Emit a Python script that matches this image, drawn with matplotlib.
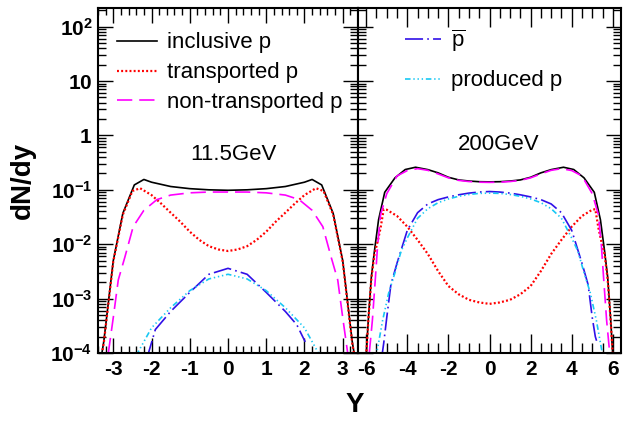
import numpy as np
import matplotlib
matplotlib.use('Agg')
import matplotlib.pyplot as plt
from matplotlib.ticker import MultipleLocator, FixedLocator, FixedFormatter, LogLocator, NullFormatter

plt.rcParams['font.family'] = ['Liberation Sans', 'DejaVu Sans']
plt.rcParams['mathtext.fontset'] = 'custom'
plt.rcParams['mathtext.rm'] = 'Liberation Sans'
plt.rcParams['mathtext.bf'] = 'Liberation Sans:bold'
plt.rcParams['lines.scale_dashes'] = False
plt.rcParams['axes.unicode_minus'] = False

# ---- 11.5 GeV panel ----
y_incl_11 = [-3.32, -3.25, -3.0, -2.75, -2.45, -2.2, -2.0, -1.5, -1.0, -0.5, 0.0,
             0.5, 1.0, 1.5, 2.0, 2.2, 2.45, 2.75, 3.0, 3.25, 3.32]
incl_11 = [8e-5, 1.6e-4, 5e-3, 0.037, 0.123, 0.155, 0.138, 0.115, 0.105, 0.100, 0.098,
           0.100, 0.105, 0.115, 0.138, 0.155, 0.123, 0.037, 5e-3, 1.6e-4, 8e-5]

y_tr_11 = [-3.32, -3.25, -3.0, -2.75, -2.5, -2.3, -2.0, -1.75, -1.5, -1.25, -1.0, -0.75, -0.5, -0.25, 0.0,
           0.25, 0.5, 0.75, 1.0, 1.25, 1.5, 1.75, 2.0, 2.3, 2.5, 2.75, 3.0, 3.25, 3.32]
tr_11 = [8e-5, 1.5e-4, 4.8e-3, 0.035, 0.095, 0.107, 0.08, 0.056, 0.038, 0.026, 0.017, 0.012, 0.0092, 0.008, 0.0075,
         0.008, 0.0092, 0.012, 0.017, 0.026, 0.038, 0.056, 0.08, 0.107, 0.095, 0.035, 4.8e-3, 1.5e-4, 8e-5]

y_ntr_11 = [-3.13, -3.0, -2.87, -2.7, -2.48, -2.2, -1.86, -1.5, -1.0, -0.5, 0.0,
            0.5, 1.0, 1.5, 1.86, 2.2, 2.48, 2.7, 2.87, 3.0, 3.13]
ntr_11 = [1e-4, 4.5e-4, 2.2e-3, 5.7e-3, 0.021, 0.042, 0.066, 0.08, 0.088, 0.091, 0.091,
          0.091, 0.088, 0.08, 0.066, 0.042, 0.021, 5.7e-3, 2.2e-3, 4.5e-4, 1e-4]

y_pbar_11 = [-2.12, -1.9, -1.5, -1.0, -0.5, 0.0, 0.5, 1.0, 1.5, 1.8, 2.02]
pbar_11 = [8e-5, 2.7e-4, 5.8e-4, 1.3e-3, 2.8e-3, 3.6e-3, 2.8e-3, 1.3e-3, 5.8e-4, 3.3e-4, 1.6e-4]

y_prod_11 = [-2.4, -2.0, -1.5, -1.0, -0.5, 0.0, 0.5, 1.0, 1.5, 2.0, 2.4]
prod_11 = [9e-5, 2.9e-4, 6.8e-4, 1.4e-3, 2.3e-3, 2.8e-3, 2.3e-3, 1.4e-3, 6.8e-4, 2.9e-4, 9e-5]

# ---- 200 GeV panel ----
y_incl_200 = [-6.0, -5.9, -5.75, -5.6, -5.4, -5.1, -4.6, -4.1, -3.6, -3.0, -2.5, -2.0, -1.5, -1.0, -0.5, 0.0,
              0.5, 1.0, 1.5, 2.0, 2.5, 3.0, 3.6, 4.1, 4.6, 5.1, 5.4, 5.6, 5.75, 5.9, 6.0]
incl_200 = [9e-5, 4e-4, 2.5e-3, 7.5e-3, 0.028, 0.09, 0.166, 0.236, 0.26, 0.235, 0.205, 0.17, 0.152, 0.145, 0.141, 0.14,
            0.141, 0.145, 0.152, 0.17, 0.205, 0.235, 0.26, 0.236, 0.166, 0.09, 0.028, 7.5e-3, 2.5e-3, 4e-4, 9e-5]

y_tr_200 = [-6.0, -5.9, -5.75, -5.6, -5.45, -5.3, -5.15, -5.0, -4.5, -4.0, -3.5, -3.0, -2.5, -2.0, -1.5, -1.0, -0.5, 0.0,
            0.5, 1.0, 1.5, 2.0, 2.5, 3.0, 3.5, 4.0, 4.5, 5.0, 5.15, 5.3, 5.45, 5.6, 5.75, 5.9, 6.0]
tr_200 = [9e-5, 3.8e-4, 2.3e-3, 6.5e-3, 0.011, 0.02, 0.044, 0.043, 0.033, 0.021, 0.012, 6.6e-3, 3.2e-3, 1.7e-3, 1.2e-3, 9.5e-4, 8.5e-4, 8e-4,
          8.5e-4, 9.5e-4, 1.2e-3, 1.7e-3, 3.2e-3, 6.6e-3, 0.012, 0.021, 0.033, 0.043, 0.044, 0.02, 0.011, 6.5e-3, 2.3e-3, 3.8e-4, 9e-5]

y_ntr_200 = [-5.85, -5.7, -5.55, -5.45, -5.3, -5.0, -4.5, -4.0, -3.5, -3.0, -2.5, -2.0, -1.5, -1.0, -0.5, 0.0,
             0.5, 1.0, 1.5, 2.0, 2.5, 3.0, 3.5, 4.0, 4.5, 5.0, 5.3, 5.45, 5.55, 5.7, 5.85]
ntr_200 = [1e-4, 4e-4, 2.5e-3, 9e-3, 0.035, 0.085, 0.18, 0.226, 0.245, 0.228, 0.196, 0.166, 0.149, 0.142, 0.138, 0.137,
           0.138, 0.142, 0.149, 0.166, 0.196, 0.228, 0.245, 0.226, 0.18, 0.085, 0.035, 9e-3, 2.5e-3, 4e-4, 1e-4]

y_pbar_200 = [-5.25, -5.15, -5.0, -4.8, -4.5, -4.0, -3.5, -3.0, -2.5, -2.0, -1.5, -1.0, -0.5, 0.0,
              0.5, 1.0, 1.5, 2.0, 2.5, 3.0, 3.5, 4.0, 4.5, 4.8, 5.0, 5.15, 5.25]
pbar_200 = [8e-5, 1.5e-4, 4.5e-4, 1.8e-3, 4.5e-3, 0.018, 0.038, 0.055, 0.066, 0.074, 0.081, 0.087, 0.091, 0.093,
            0.091, 0.087, 0.081, 0.074, 0.066, 0.055, 0.038, 0.018, 4.5e-3, 1.8e-3, 4.5e-4, 2e-4, 1.5e-4]

y_prod_200 = [-5.55, -5.45, -5.2, -4.9, -4.6, -4.3, -4.0, -3.5, -3.0, -2.5, -2.0, -1.5, -1.0, -0.5, 0.0,
              0.5, 1.0, 1.5, 2.0, 2.5, 3.0, 3.5, 4.0, 4.3, 4.6, 4.9, 5.2, 5.45, 5.55]
prod_200 = [8e-5, 1.2e-4, 4e-4, 1.3e-3, 3e-3, 7.5e-3, 0.013, 0.03, 0.045, 0.058, 0.068, 0.076, 0.082, 0.086, 0.087,
            0.086, 0.082, 0.076, 0.068, 0.058, 0.045, 0.03, 0.013, 7.5e-3, 3e-3, 1.3e-3, 4e-4, 1.2e-4, 8e-5]

ytick_vals = [1e-4, 1e-3, 1e-2, 1e-1, 1, 10, 100]
ytick_txt = [r'$\mathbf{10^{-4}}$', r'$\mathbf{10^{-3}}$', r'$\mathbf{10^{-2}}$', r'$\mathbf{10^{-1}}$',
             r'$\mathbf{1}$', r'$\mathbf{10}$', r'$\mathbf{10^{2}}$']

black = dict(color='black', lw=1.2, ls='-')
red = dict(color='#ff0000', lw=1.6, ls=(0, (1.4, 1.6)))
mag = dict(color='#ff00ff', lw=1.2, ls=(0, (11, 5)))
blue = dict(color='#3010e8', lw=1.2, ls=(0, (13, 3, 1.2, 3)))
cyan = dict(color='#18c8f4', lw=1.2, ls=(0, (4, 2, 1, 2, 1, 2, 1, 2)))

fig = plt.figure(figsize=(6.23, 4.21), dpi=100)
ax1 = fig.add_axes([98 / 623, 68 / 421, 260 / 623, 345 / 421])
ax2 = fig.add_axes([358 / 623, 68 / 421, 263 / 623, 345 / 421])

ax1.plot(y_incl_11, incl_11, label='inclusive p', **black)
ax1.plot(y_tr_11, tr_11, label='transported p', **red)
ax1.plot(y_ntr_11, ntr_11, label='non-transported p', **mag)
ax1.plot(y_pbar_11, pbar_11, **blue)
ax1.plot(y_prod_11, prod_11, **cyan)

ax2.plot(y_incl_200, incl_200, **black)
ax2.plot(y_tr_200, tr_200, **red)
ax2.plot(y_ntr_200, ntr_200, **mag)
ax2.plot(y_pbar_200, pbar_200, label=r'$\overline{\mathrm{p}}$', **blue)
ax2.plot(y_prod_200, prod_200, label='produced p', **cyan)

for ax in (ax1, ax2):
    ax.set_yscale('log')
    ax.set_ylim(1e-4, 220)
    ax.yaxis.set_major_locator(FixedLocator(ytick_vals))
    ax.yaxis.set_minor_locator(LogLocator(base=10, subs=np.arange(2, 10)))
    ax.yaxis.set_minor_formatter(NullFormatter())
    for s in ax.spines.values():
        s.set_linewidth(1.5)
    ax.tick_params(which='both', direction='in', top=True, right=True, width=1.0)
    ax.tick_params(axis='y', which='major', length=11)
    ax.tick_params(axis='y', which='minor', length=5.5)

ax1.set_xlim(-3.4, 3.4)
ax1.xaxis.set_major_locator(MultipleLocator(1))
ax1.xaxis.set_minor_locator(MultipleLocator(0.2))
ax1.tick_params(axis='x', which='major', length=10.8)
ax1.tick_params(axis='x', which='minor', length=5)
ax1.yaxis.set_major_formatter(FixedFormatter(ytick_txt))
ax1.tick_params(axis='y', which='major', labelsize=15, pad=4)

ax2.set_xlim(-6.4, 6.4)
ax2.xaxis.set_major_locator(MultipleLocator(2))
ax2.xaxis.set_minor_locator(MultipleLocator(0.5))
ax2.tick_params(axis='x', which='major', length=14)
ax2.tick_params(axis='x', which='minor', length=7)
ax2.tick_params(axis='y', labelleft=False)

for ax in (ax1, ax2):
    ax.tick_params(axis='x', which='major', labelsize=15, pad=5)
    for lab in ax.get_xticklabels():
        lab.set_fontweight('bold')

ax1.legend(loc='upper left', bbox_to_anchor=(0.073, 0.929), frameon=False, fontsize=16,
           handlelength=1.8, handletextpad=0.45, labelspacing=0.4, borderpad=0, borderaxespad=0)
ax2.legend(loc='upper left', bbox_to_anchor=(0.179, 0.943), frameon=False, fontsize=16,
           handlelength=1.6, handletextpad=0.45, labelspacing=0.74, borderpad=0, borderaxespad=0)

ax1.text(0.519, 0.574, '11.5GeV', transform=ax1.transAxes, ha='center', va='center', fontsize=16)
ax2.text(0.536, 0.603, '200GeV', transform=ax2.transAxes, ha='center', va='center', fontsize=16)

fig.text(23 / 623, 1 - 180 / 421, 'dN/dy', rotation=90, ha='center', va='center',
         fontsize=20, fontweight='bold')
fig.text(355 / 623, 1 - 405 / 421, 'Y', ha='center', va='center', fontsize=20, fontweight='bold')

fig.savefig('out.png', dpi=100)
